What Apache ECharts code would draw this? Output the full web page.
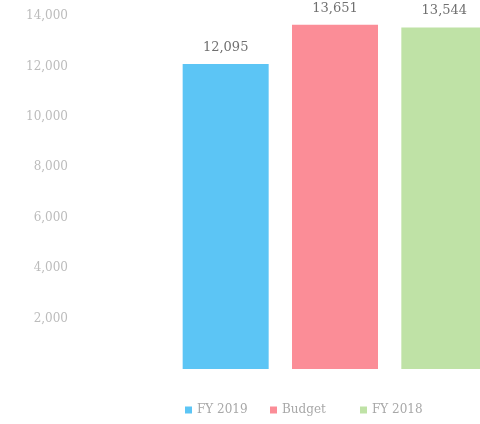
<!DOCTYPE html>
<html>
<head>
<meta charset="utf-8">
<script src="https://cdn.jsdelivr.net/npm/echarts@6/dist/echarts.min.js"></script>
<style>
  html, body { margin: 0; padding: 0; background: #ffffff; }
  #chart { width: 480px; height: 424px; }
</style>
</head>
<body>
<div id="chart"></div>
<script>
// Annual totals: current year vs budget vs prior year
const categories = ['FY 2019', 'Budget', 'FY 2018'];
const seriesNames = ['FY 2019', 'Budget', 'FY 2018'];
const values = [12095, 13651, 13544];
const colors = ['#5cc5f5', '#fb8d97', '#bfe2a6'];
const yTicks = [0, 2000, 4000, 6000, 8000, 10000, 12000, 14000];

const fmt = v => v.toLocaleString('en-US');
const font = 'DejaVu Serif';

// one series per bar so each gets its own legend entry; overlapping slots keep bars centred
const series = seriesNames.map((name, i) => ({
  name: name,
  type: 'bar',
  barWidth: 86,
  barGap: '-100%',
  data: categories.map((c, j) => (j === i ? values[i] : '-')),
  itemStyle: { color: colors[i] },
  label: {
    show: true,
    position: 'top',
    distance: 10,
    color: '#707070',
    fontFamily: font,
    fontSize: 13,
    formatter: p => fmt(p.value)
  }
}));

// each legend entry placed on its own so the spacing stays even
const legendLefts = [185, 270, 360];
const legends = seriesNames.map((name, i) => ({
  data: [name],
  left: legendLefts[i],
  top: 404,
  padding: 0,
  itemWidth: 7,
  itemHeight: 7,
  icon: 'rect',
  textStyle: { color: '#a8a8a8', fontFamily: font, fontSize: 12 }
}));

const chart = echarts.init(document.getElementById('chart'));
chart.setOption({
  animation: false,
  grid: { left: 171, top: 16, width: 328, height: 353, outerBoundsMode: 'none', containLabel: false },
  legend: legends,
  xAxis: {
    type: 'category',
    data: categories,
    axisLine: { show: false },
    axisTick: { show: false },
    axisLabel: { show: false }
  },
  yAxis: {
    type: 'value',
    min: yTicks[0],
    max: yTicks[yTicks.length - 1],
    interval: 2000,
    splitLine: { show: false },
    axisLine: { show: false },
    axisTick: { show: false },
    axisLabel: {
      margin: 103,
      color: '#bcbcbc',
      fontFamily: font,
      fontSize: 12,
      formatter: v => (v === 0 ? '' : fmt(v))
    }
  },
  series: series
});
</script>
</body>
</html>
